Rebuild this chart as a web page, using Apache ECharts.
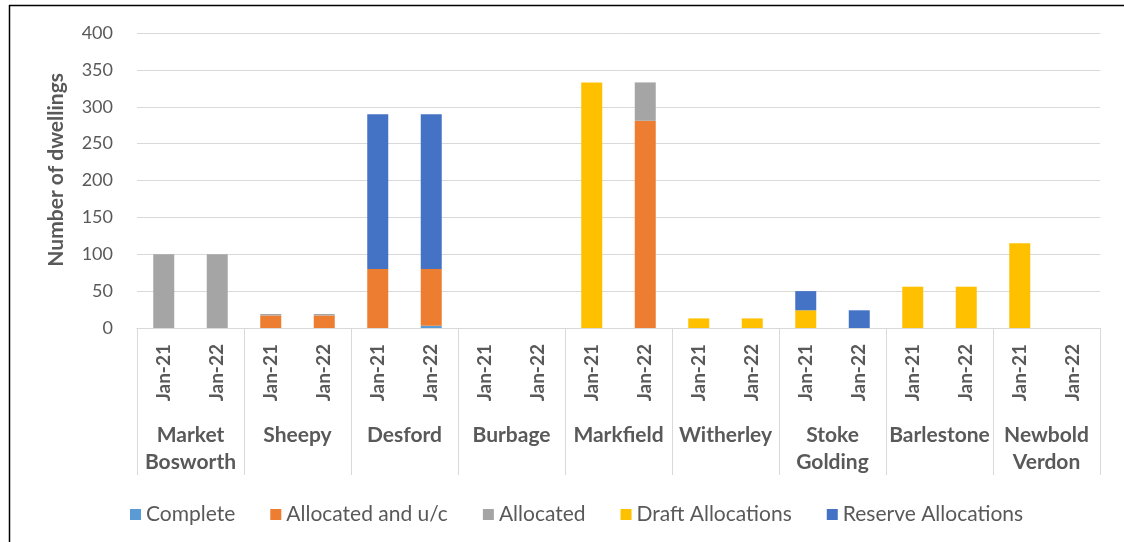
<!DOCTYPE html>
<html lang="en">
<head>
    <meta charset="UTF-8">
    <title>Number of dwellings by settlement</title>
    <script src="https://cdn.jsdelivr.net/npm/echarts@6/dist/echarts.min.js"></script>
    <style>
        html, body { margin: 0; padding: 0; background: #fff; }
        #main { width: 1124px; height: 542px; }
    </style>
</head>
<body>
<div id="main"></div>
<script>
    // settlements (outer level) and dates (inner level)
    var groups = ['Market\nBosworth', 'Sheepy', 'Desford', 'Burbage', 'Markfield', 'Witherley', 'Stoke\nGolding', 'Barlestone', 'Newbold\nVerdon'];
    var dates = ['Jan-21', 'Jan-22'];
    var yTicks = [0, 50, 100, 150, 200, 250, 300, 350, 400];

    // values per bar, in order: group1 Jan-21, group1 Jan-22, group2 Jan-21 ...
    var complete     = [0, 0,   0, 0,   0, 3,     0, 0,   0, 0,     0, 0,   0, 0,   0, 0,   0, 0];
    var allocatedUC  = [0, 0,   17, 17, 80, 77,   0, 0,   0, 281,   0, 0,   0, 0,   0, 0,   0, 0];
    var allocated    = [100, 100, 2, 2, 0, 0,     0, 0,   0, 52,    0, 0,   0, 0,   0, 0,   0, 0];
    var draft        = [0, 0,   0, 0,   0, 0,     0, 0,   333, 0,   13, 13, 24, 0,  56, 56, 115, 0];
    var reserve      = [0, 0,   0, 0,   210, 210, 0, 0,   0, 0,     0, 0,   26, 24, 0, 0,   0, 0];

    var cats = [];
    groups.forEach(function () { dates.forEach(function (d) { cats.push(d); }); });

    var grey = '#595959';
    var lineCol = '#d9d9d9';
    var font = 'Lato, "Open Sans", sans-serif';

    function bar(name, data, color) {
        return {
            name: name,
            type: 'bar',
            stack: 'total',
            barWidth: 21,
            data: data,
            itemStyle: {color: color},
            emphasis: {disabled: true}
        };
    }

    var myChart = echarts.init(document.getElementById('main'));
    myChart.setOption({
        animation: false,
        textStyle: {fontFamily: font},
        grid: {left: 137, right: 24, top: 33, bottom: 214},
        legend: {
            left: 125, top: 499,
            itemWidth: 11, itemHeight: 11, itemGap: 35,
            icon: 'rect',
            textStyle: {fontSize: 21, color: grey, fontFamily: font},
            data: ['Complete', 'Allocated and u/c', 'Allocated', 'Draft Allocations', 'Reserve Allocations']
        },
        xAxis: [{
            type: 'category',
            data: cats,
            axisLine: {lineStyle: {color: lineCol}},
            axisTick: {show: false},
            axisLabel: {rotate: 90, margin: 16, fontSize: 19, fontWeight: 'bold', color: grey, fontFamily: font}
        }, {
            type: 'category',
            position: 'bottom',
            data: groups,
            axisLine: {show: true, lineStyle: {color: lineCol}},
            axisTick: {show: true, length: 147, interval: 0, lineStyle: {color: lineCol}},
            axisLabel: {
                interval: 0, margin: 94, fontSize: 21, fontWeight: 'bold', color: grey,
                lineHeight: 27, verticalAlign: 'top', fontFamily: font
            }
        }],
        yAxis: {
            type: 'value',
            min: yTicks[0], max: yTicks[yTicks.length - 1], interval: 50,
            axisLine: {show: false},
            axisTick: {show: false},
            splitLine: {lineStyle: {color: lineCol, width: 1}},
            axisLabel: {fontSize: 18, color: grey, margin: 24, fontFamily: font}
        },
        graphic: [{
            type: 'text',
            left: 46, top: 73,
            rotation: Math.PI / 2,
            style: {text: 'Number of dwellings', fill: grey, font: 'bold 21px ' + font}
        }, {
            type: 'line',
            shape: {x1: 9.5, y1: 5, x2: 9.5, y2: 542},
            style: {stroke: '#000', lineWidth: 1.5}
        }, {
            type: 'line',
            shape: {x1: 9, y1: 5.5, x2: 1124, y2: 5.5},
            style: {stroke: '#000', lineWidth: 1.5}
        }],
        series: [
            bar('Complete', complete, '#5b9bd5'),
            bar('Allocated and u/c', allocatedUC, '#ed7d31'),
            bar('Allocated', allocated, '#a5a5a5'),
            bar('Draft Allocations', draft, '#ffc000'),
            bar('Reserve Allocations', reserve, '#4472c4')
        ]
    });
</script>
</body>
</html>
